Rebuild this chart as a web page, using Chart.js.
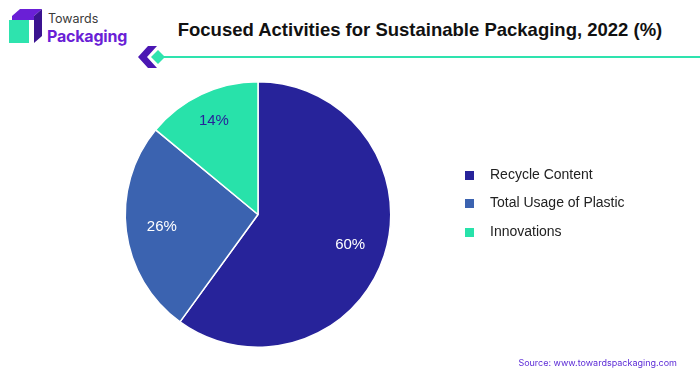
<!DOCTYPE html>
<html lang="en">
<head>
    <meta charset="utf-8">
    <title>Focused Activities for Sustainable Packaging, 2022 (%)</title>
    <script src="https://cdn.jsdelivr.net/npm/chart.js"></script>
    <style>
        html, body { margin: 0; padding: 0; background: #fff; }
        body { width: 700px; height: 375px; position: relative; overflow: hidden; font-family: "Liberation Sans", Arial, sans-serif; }
        #chart-wrap { position: absolute; left: 0; top: 0; width: 700px; height: 375px; }
        #title { position: absolute; left: 140px; width: 560px; top: 19px; text-align: center; font-size: 18.5px; font-weight: bold; color: #111; }
        #rule { position: absolute; left: 160px; top: 56px; width: 540px; height: 2px; background: #2ee3ae; }
        #logo-text1 { position: absolute; left: 48px; top: 11px; font-size: 12.5px; color: #3a3a3a; font-family: "Inter", "Noto Sans", sans-serif; }
        #logo-text2 { position: absolute; left: 47px; top: 26px; font-size: 16px; font-weight: bold; color: #6a1fd6; font-family: "Inter", "Noto Sans", sans-serif; letter-spacing: -0.2px; }
        #legend { position: absolute; left: 465px; top: 166px; font-size: 14px; color: #222; font-family: "Liberation Sans", Arial, sans-serif; }
        .leg-item { position: absolute; left: 0; white-space: nowrap; }
        .leg-box { display: inline-block; width: 9px; height: 9px; margin-right: 16px; vertical-align: -1px; }
        #source { position: absolute; right: 23px; top: 357px; font-size: 9px; color: #5b2ad6; font-family: "Inter", "Noto Sans", sans-serif; }
    </style>
</head>
<body>
    <svg width="180" height="75" style="position:absolute;left:0;top:0">
        <!-- logo cube -->
        <polygon points="12,16 20,9 42,9 34,16" fill="#6a1fd6"/>
        <polygon points="34,16 42,9 42,36 34,43" fill="#3b1390"/>
        <rect x="9" y="20" width="20" height="23" fill="#2ee3ae"/>
        <rect x="12" y="16" width="22" height="4" fill="#6a1fd6"/>
        <!-- chevron + diamond -->
        <polygon points="148,46 157,46 147,57 157,68 148,68 138,57" fill="#4b17b3"/>
        <polygon points="158,50 165,57 158,64 151,57" fill="#2ee3ae"/>
    </svg>
    <div id="logo-text1">Towards</div>
    <div id="logo-text2">Packaging</div>
    <div id="title">Focused Activities for Sustainable Packaging, 2022 (%)</div>
    <div id="rule"></div>
    <div id="chart-wrap"><canvas id="myChart"></canvas></div>
    <div id="legend"></div>
    <div id="source">Source: www.towardspackaging.com</div>

    <script>
        // データ
        const categories = ['Recycle Content', 'Total Usage of Plastic', 'Innovations'];
        const shares = [60, 26, 14];
        const sliceColors = ['#27239a', '#3b63b0', '#28e2aa'];
        const labelColors = ['#ffffff', '#ffffff', '#27239a'];
        const legendTops = [0, 28, 57];

        // スライス中央にラベルを描く
        const sliceLabels = {
            id: 'sliceLabels',
            afterDatasetsDraw(chart) {
                const ctx = chart.ctx;
                const meta = chart.getDatasetMeta(0);
                ctx.save();
                ctx.font = '15px "Liberation Sans", Arial, sans-serif';
                ctx.textAlign = 'center';
                ctx.textBaseline = 'middle';
                meta.data.forEach((arc, i) => {
                    const mid = (arc.startAngle + arc.endAngle) / 2;
                    const r = arc.outerRadius * (i === 2 ? 0.78 : 0.73);
                    ctx.fillStyle = labelColors[i];
                    ctx.fillText(shares[i] + '%', arc.x + Math.cos(mid) * r, arc.y + Math.sin(mid) * r);
                });
                ctx.restore();
            }
        };

        function buildLegend() {
            const box = document.getElementById('legend');
            categories.forEach((name, i) => {
                const item = document.createElement('div');
                item.className = 'leg-item';
                item.style.top = legendTops[i] + 'px';
                item.innerHTML = '<span class="leg-box" style="background:' + sliceColors[i] + '"></span>' + name;
                box.appendChild(item);
            });
        }

        function initializeChart() {
            const ctx = document.getElementById('myChart').getContext('2d');
            new Chart(ctx, {
                type: 'pie',
                data: {
                    labels: categories,
                    datasets: [{
                        data: shares,
                        backgroundColor: sliceColors,
                        borderColor: '#ffffff',
                        borderWidth: 1.5
                    }]
                },
                options: {
                    responsive: true,
                    maintainAspectRatio: false,
                    animation: false,
                    layout: { padding: { left: 124, right: 308, top: 81, bottom: 27 } },
                    plugins: {
                        legend: { display: false },
                        tooltip: { enabled: false }
                    }
                },
                plugins: [sliceLabels]
            });
        }

        buildLegend();
        initializeChart();
    </script>
</body>
</html>
